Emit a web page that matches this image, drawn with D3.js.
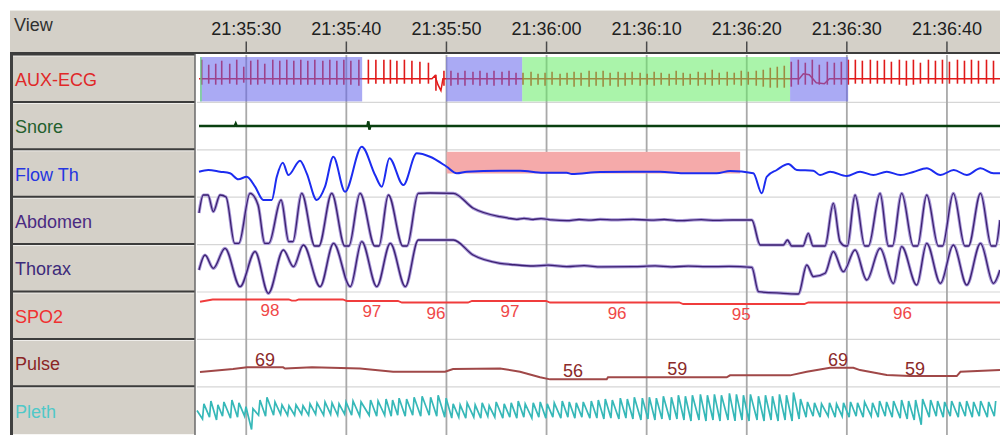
<!DOCTYPE html>
<html>
<head>
<meta charset="utf-8">
<script src="https://cdn.jsdelivr.net/npm/d3@7"></script>
<style>
body { margin: 0; background: #fff; }
svg { display: block; font-family: "Liberation Sans", Arial, sans-serif; }
</style>
</head>
<body>
<div id="chart"></div>
<script>
// times are seconds after 21:35:00
var channels = ['AUX-ECG', 'Snore', 'Flow Th', 'Abdomen', 'Thorax', 'SPO2', 'Pulse', 'Pleth'];
var viewStart = 25.13, viewEnd = 105.35;

// scored events on AUX-ECG: [start, end, type]
var ecgEvents = [[25.43, 41.63, 'B'], [25.43, 25.62, 'G'], [50.02, 57.62, 'B'], [57.62, 84.38, 'G'], [84.38, 90.18, 'B']];
// event on Flow Th: [start, end]
var flowEvents = [[50.07, 79.39]];

// heart beats: [time, ecg top, ecg bottom, pleth top, pleth bottom]
var beats = [
  [25.6, 0.95, -0.3, 0.35, -0.45], [26.3, 0.70, -0.25, 0.50, -0.35], [27.0, 0.75, -0.3, 0.30, -0.50],
  [27.6, 0.90, -0.3, 0.45, -0.30], [28.4, 0.75, -0.25, 0.55, -0.40], [29.1, 0.95, -0.3, 0.40, -0.35],
  [29.8, 0.60, -0.2, 0.20, -0.30], [30.5, 0.90, -0.3, 0.10, -1.00], [31.2, 0.95, -0.3, 0.55, -0.25],
  [31.9, 0.75, -0.25, 0.70, -0.30], [32.7, 0.95, -0.3, 0.45, -0.25], [33.4, 0.90, -0.3, 0.30, -0.20],
  [34.1, 0.95, -0.3, 0.25, -0.25], [34.8, 0.90, -0.3, 0.30, -0.25], [35.5, 0.95, -0.3, 0.25, -0.20],
  [36.2, 0.90, -0.3, 0.35, -0.25], [36.9, 0.95, -0.3, 0.40, -0.20], [37.7, 0.90, -0.3, 0.45, -0.25],
  [38.4, 0.95, -0.3, 0.40, -0.20], [39.1, 0.90, -0.3, 0.35, -0.25], [39.8, 0.95, -0.3, 0.45, -0.20],
  [40.5, 0.90, -0.3, 0.50, -0.25], [41.3, 0.95, -0.35, 0.45, -0.30], [42.25, 0.95, -0.25, 0.55, -0.25],
  [43.0, 0.95, -0.25, 0.50, -0.30], [43.8, 0.95, -0.25, 0.60, -0.25], [44.45, 0.95, -0.25, 0.55, -0.30],
  [45.1, 0.90, -0.25, 0.65, -0.25], [45.85, 0.95, -0.25, 0.60, -0.30], [46.6, 0.90, -0.25, 0.70, -0.25],
  [47.4, 0.85, -0.25, 0.75, -0.30], [48.25, 0.80, -0.25, 0.70, -0.25], [49.0, 0.20, -0.60, 0.80, -0.30],
  [49.8, 0.40, -0.35, 0.65, -0.35], [50.5, 0.40, -0.35, 0.35, -0.40], [51.2, 0.30, -0.30, 0.30, -0.35],
  [51.9, 0.40, -0.35, 0.40, -0.40], [52.7, 0.35, -0.30, 0.30, -0.35], [53.4, 0.40, -0.35, 0.40, -0.40],
  [54.1, 0.30, -0.30, 0.25, -0.30], [54.8, 0.40, -0.35, 0.45, -0.35], [55.6, 0.35, -0.30, 0.35, -0.40],
  [56.3, 0.40, -0.35, 0.40, -0.35], [57.0, 0.30, -0.30, 0.50, -0.40], [57.7, 0.30, -0.30, 0.35, -0.35],
  [58.5, 0.35, -0.35, 0.40, -0.40], [59.2, 0.25, -0.30, 0.45, -0.35], [59.9, 0.30, -0.35, 0.35, -0.40],
  [60.6, 0.35, -0.30, 0.40, -0.35], [61.4, 0.25, -0.35, 0.50, -0.40], [62.1, 0.30, -0.30, 0.45, -0.35],
  [62.8, 0.35, -0.40, 0.40, -0.40], [63.5, 0.30, -0.35, 0.45, -0.35], [64.3, 0.40, -0.40, 0.50, -0.40],
  [65.0, 0.35, -0.35, 0.55, -0.40], [65.7, 0.40, -0.40, 0.60, -0.45], [66.4, 0.30, -0.35, 0.55, -0.40],
  [67.2, 0.35, -0.40, 0.65, -0.45], [67.9, 0.30, -0.35, 0.60, -0.40], [68.6, 0.35, -0.30, 0.70, -0.45],
  [69.4, 0.30, -0.35, 0.65, -0.50], [70.1, 0.25, -0.30, 0.70, -0.45], [70.8, 0.35, -0.35, 0.65, -0.50],
  [71.5, 0.30, -0.30, 0.75, -0.45], [72.3, 0.25, -0.35, 0.70, -0.50], [73.0, 0.40, -0.30, 0.80, -0.45],
  [73.7, 0.30, -0.35, 0.75, -0.50], [74.4, 0.25, -0.30, 0.80, -0.55], [75.2, 0.35, -0.35, 0.85, -0.50],
  [75.9, 0.30, -0.30, 0.80, -0.55], [76.6, 0.45, -0.35, 0.85, -0.50], [77.3, 0.30, -0.30, 0.80, -0.55],
  [78.1, 0.35, -0.35, 0.90, -0.50], [78.8, 0.30, -0.30, 0.85, -0.55], [79.5, 0.40, -0.35, 0.80, -0.50],
  [80.2, 0.35, -0.30, 0.85, -0.55], [81.0, 0.40, -0.35, 0.75, -0.50], [81.7, 0.45, -0.40, 0.80, -0.55],
  [82.4, 0.55, -0.45, 0.75, -0.50], [83.1, 0.60, -0.45, 0.85, -0.55], [83.8, 0.65, -0.45, 0.80, -0.50],
  [84.5, 0.85, -0.40, 0.95, -0.55], [85.2, 0.95, -0.30, 0.60, -0.45], [85.9, 0.80, -0.30, 0.45, -0.35],
  [86.6, 0.95, -0.30, 0.40, -0.30], [87.3, 0.70, -0.30, 0.35, -0.35], [88.1, 0.85, -0.30, 0.40, -0.30],
  [88.8, 0.80, -0.30, 0.35, -0.35], [89.5, 0.85, -0.30, 0.40, -0.30], [90.2, 0.95, -0.30, 0.45, -0.35],
  [90.9, 0.95, -0.25, 0.40, -0.30], [91.6, 0.90, -0.25, 0.45, -0.35], [92.4, 0.95, -0.25, 0.40, -0.30],
  [93.1, 0.90, -0.25, 0.50, -0.35], [93.8, 0.95, -0.25, 0.45, -0.30], [94.5, 0.85, -0.25, 0.50, -0.35],
  [95.3, 0.95, -0.30, 0.55, -0.40], [96.0, 0.90, -0.35, 0.50, -0.45], [96.7, 0.95, -0.30, 0.55, -0.50],
  [97.4, 0.80, -0.25, 0.60, -0.75], [98.2, 0.95, -0.25, 0.55, -0.35], [98.9, 0.90, -0.25, 0.50, -0.30],
  [99.6, 0.95, -0.25, 0.45, -0.35], [100.3, 0.85, -0.25, 0.50, -0.30], [101.1, 0.95, -0.25, 0.45, -0.35],
  [101.8, 0.90, -0.25, 0.50, -0.30], [102.5, 0.95, -0.25, 0.45, -0.35], [103.2, 0.90, -0.25, 0.50, -0.30],
  [104.0, 0.95, -0.25, 0.45, -0.35], [104.7, 0.90, -0.25, 0.50, -0.30]
];

// ECG baseline wander [time, value]
var ecgBase = [[25.33, 0], [48.6, 0], [48.9, 0.15], [49.2, -0.3], [49.5, -0.6], [49.7, 0], [85.3, 0],
  [85.7, 0.25], [86.3, 0.2], [87.0, -0.2], [87.8, -0.25], [88.3, 0], [105.35, 0]];

var snore = [[25.33, 0], [28.9, 0], [29.0, 0.1], [29.1, 0], [42.15, 0], [42.25, 0.2], [42.35, -0.15], [42.45, 0], [105.35, 0]];

// respiratory channels, % of row height
var flow = [[25.33, 53.8], [26.26, 57.4], [27.43, 53.8], [28.43, 50.4], [29.26, 37.8], [30.1, 43.2], [30.93, 22.2],
  [31.76, -5.9], [32.6, -5.9], [33.1, 43.2], [33.7, 72.8], [34.26, 46.8], [35.42, 77], [36.09, 50.4], [37.09, -5.9],
  [37.92, 22.2], [38.75, 85.4], [39.92, 11.6], [41.59, 106.5], [42.92, 46.8], [43.59, 22.2], [44.35, 82.1],
  [45.74, 25.7], [47.08, 92.6], [48.41, 85.4], [50.08, 64.3], [51.08, 50.4], [52.08, 53.8], [55.4, 55.9],
  [57.4, 55.9], [59.73, 51.7], [62.07, 51.7], [62.57, 48.9], [65.4, 53.2], [68.69, 53.8], [71.39, 53.8],
  [73.69, 50.4], [77.05, 50.4], [78.38, 55.3], [80.71, 50.4], [81.55, 8.2], [82.05, 43.2], [83.05, 57.4],
  [84.21, 70], [85.05, 57.4], [86.7, 55.9], [87.37, 46.8], [88.37, 53.8], [90.04, 44.7], [91.37, 53.8],
  [92.7, 46.8], [94.04, 53.8], [95.4, 46.8], [96.69, 53.2], [98.03, 61], [99.4, 46.8], [100.73, 57.4],
  [102.03, 46.8], [103.4, 61], [104.7, 50.4], [105.35, 50.4]];

var abdomen = [[25.33, 66.7], [25.76, 104.6], [26.23, 104.6], [26.76, 69.4], [27.43, 104.6], [28.03, 100.4],
  [28.9, 2.7], [29.3, 2.7], [30.43, 108.2], [31.23, 83.5], [31.9, 2.7], [32.3, 2.7], [33.53, 94.1], [34.3, 6.1],
  [34.7, 6.1], [35.59, 108.2], [36.9, -3], [37.3, -3], [38.59, 108.2], [39.9, -3], [40.3, -3], [41.42, 108.2],
  [42.9, -3], [43.3, -3], [44.25, 104.6], [45.7, -3], [46.1, -3], [47.24, 108.2], [48.41, 108.9], [50.74, 108.2],
  [52.74, 76.6], [55.4, 58.9], [56.2, 56], [57.07, 53.4], [57.8, 55.5], [58.7, 53], [59.5, 55], [60.6, 52],
  [62.07, 50.4], [63.3, 53], [64.5, 51.5], [65.4, 53.4], [66.8, 52], [68.69, 53.4], [70.5, 51.5], [71.8, 53],
  [73.39, 50.4], [75.5, 52.5], [77, 51], [78.68, 51.9], [80.55, 51.9], [81.4, -0.8], [83.71, -0.8], [84.11, 9.7],
  [84.55, -3], [85.67, -3], [86.2, 23.8], [86.67, -3], [87.87, -3], [88.7, 87.1], [89.37, 6.1], [89.9, -3],
  [90.1, -3], [90.87, 104.6], [91.85, -3], [92.2, -3], [93.37, 108.2], [94.2, -3], [94.6, -3], [95.53, 108.2],
  [96.7, -3], [97.1, -3], [98.03, 104.6], [99.2, -3], [99.6, -3], [100.69, 108.2], [101.85, -3], [102.2, -3],
  [103.4, 108.2], [104.5, -3], [104.9, -3], [105.35, 51.9]];

var thorax = [[25.33, 46.4], [25.93, 78.1], [26.76, 50], [27.93, 92.2], [29.43, 11.2], [30.93, 85], [32.26, -2.7],
  [33.76, 88.6], [34.76, 53.4], [35.76, 99.2], [37.43, 11.2], [38.77, 102.7], [40.44, 11.2], [41.59, 106.1],
  [43.09, 11.2], [44.44, 102.7], [45.94, 11.2], [47.24, 109.7], [50.74, 109.7], [52.71, 78.1], [55.4, 60.5],
  [56.8, 57.5], [58.73, 54.9], [60.2, 56.5], [62.07, 53.4], [63.8, 55.5], [65.5, 53], [68.72, 53.4], [70.9, 55],
  [72.5, 53], [74.2, 54.5], [76.05, 53.4], [78.3, 54], [80.55, 52.1], [81.23, 0.6], [83.71, -2.7], [85.21, -4.2],
  [86.05, 57], [86.71, 32.3], [87.87, 39.5], [88.7, 85], [89.7, 42.8], [90.87, 88.6], [92.04, 25.3], [93.37, 92.2],
  [94.7, 18.4], [95.53, 95.6], [97.03, 14.8], [98.03, 102.7], [99.4, 18.4], [100.69, 99.2], [102.03, 14.8],
  [103.4, 102.7], [104.7, 18.4], [105.35, 46.4]];

// saturation (%) and heart rate (bpm)
var spo2 = [[25.43, 96.5], [26.7, 98], [34.3, 98], [34.6, 97.2], [35.0, 97.2], [35.3, 98], [39.7, 98], [40.1, 97],
  [45.2, 97], [45.6, 96], [52.2, 96], [52.6, 97], [60.0, 97], [60.4, 96], [73.3, 96], [73.7, 95], [85.8, 95],
  [86.2, 96], [105.35, 96]];
var spo2Labels = [[32.43, 98], [42.6, 97], [49.0, 96], [56.4, 97], [67.1, 96], [79.5, 95], [95.6, 96]];

var pulse = [[25.43, 64.3], [28.73, 67.8], [30.13, 69.8], [33.73, 69.8], [33.93, 68.4], [36.62, 69.8], [41.42, 68.6],
  [44.72, 64.6], [49.91, 64.6], [50.71, 67.8], [55.4, 68.6], [57.4, 64.6], [59.4, 58.1], [60.4, 55.7], [66.06, 55.7],
  [66.19, 58.1], [78.05, 58.1], [78.38, 60.4], [84.38, 60.4], [86.04, 64.6], [88.37, 69.4], [90.7, 69.4],
  [91.37, 66.6], [94.04, 60.8], [96.37, 59.6], [101.03, 59.6], [101.4, 64.6], [105.35, 66.6]];
var pulseLabels = [[31.93, 69], [62.7, 56], [73.1, 59], [89.17, 69], [96.87, 59]];

// ---- layout and styles ----
var width = 1000, height = 435;
var colLeft = 10, colRight = 195, plotLeft = 197;
var headTop = 10, headBottom = 53, rowTop0 = 55, rowH = 47.4;
var labelColors = ['#e02828', '#235f2d', '#2535e0', '#4a2a82', '#3c2a7a', '#f03030', '#8b2525', '#50c8c8'];
var eventFill = { B: '#6464eb', G: '#64eb64' };
var panelGray = '#d4d0c8';

function rowTop(i) { return rowTop0 + i * rowH; }
function rowMid(i) { return rowTop(i) + rowH / 2; }

var t0 = new Date(2000, 0, 1, 21, 35, 0);
function toDate(s) { return new Date(t0.getTime() + s * 1000); }

var x = d3.scaleTime()
  .domain([toDate(viewStart), toDate(viewEnd)])
  .range([plotLeft, width]);

var svg = d3.select('#chart').append('svg')
  .attr('width', width)
  .attr('height', height);

svg.append('defs').append('clipPath').attr('id', 'plotclip')
  .append('rect')
  .attr('x', plotLeft - 1).attr('y', rowTop0)
  .attr('width', width - plotLeft + 1).attr('height', height - rowTop0);

// header band
svg.append('rect')
  .attr('x', colLeft).attr('y', headTop)
  .attr('width', width - colLeft).attr('height', headBottom - headTop)
  .attr('fill', panelGray);
svg.append('line')
  .attr('x1', colLeft).attr('x2', width).attr('y1', headTop + 0.5).attr('y2', headTop + 0.5)
  .attr('stroke', '#ecebe6');
svg.append('text')
  .attr('x', 14).attr('y', 31)
  .attr('font-size', 18).attr('fill', '#303030')
  .text('View');

// label column
var cells = svg.selectAll('g.cell')
  .data(channels)
  .enter().append('g')
  .attr('class', 'cell');

cells.append('rect')
  .attr('x', colLeft)
  .attr('y', function(d, i) { return rowTop(i); })
  .attr('width', colRight - colLeft)
  .attr('height', rowH)
  .attr('fill', panelGray);

cells.append('line')
  .attr('x1', colLeft).attr('x2', colRight)
  .attr('y1', function(d, i) { return rowTop(i) + 1; })
  .attr('y2', function(d, i) { return rowTop(i) + 1; })
  .attr('stroke', '#ffffff').attr('stroke-width', 1).attr('opacity', 0.7);

cells.append('line')
  .attr('x1', colLeft).attr('x2', colRight)
  .attr('y1', function(d, i) { return rowTop(i) - 0.5; })
  .attr('y2', function(d, i) { return rowTop(i) - 0.5; })
  .attr('stroke', '#3c3c3c').attr('stroke-width', 2);

cells.append('text')
  .attr('x', 15)
  .attr('y', function(d, i) { return rowMid(i) + 7; })
  .attr('font-size', 18)
  .attr('fill', function(d, i) { return labelColors[i]; })
  .text(function(d) { return d; });

svg.append('line')
  .attr('x1', colLeft + 1.5).attr('x2', colLeft + 1.5)
  .attr('y1', headBottom).attr('y2', height)
  .attr('stroke', '#404040').attr('stroke-width', 3);
svg.append('line')
  .attr('x1', colRight).attr('x2', colRight)
  .attr('y1', headBottom).attr('y2', height)
  .attr('stroke', '#6a6a6a').attr('stroke-width', 1.5);
svg.append('line')
  .attr('x1', colLeft).attr('x2', width)
  .attr('y1', headBottom).attr('y2', headBottom)
  .attr('stroke', '#3c3c3c').attr('stroke-width', 2);

// time axis in the header
var timeAxis = d3.axisTop(x)
  .ticks(d3.timeSecond.every(10))
  .tickFormat(d3.timeFormat('%H:%M:%S'))
  .tickSize(11)
  .tickPadding(7);

var axisG = svg.append('g')
  .attr('transform', 'translate(0,' + (headBottom - 0.5) + ')')
  .call(timeAxis);
axisG.select('.domain').remove();
axisG.selectAll('line').attr('stroke', '#4a4a4a').attr('stroke-width', 1.5);
axisG.selectAll('text')
  .attr('font-size', 18)
  .attr('font-family', '"Liberation Sans", Arial, sans-serif')
  .attr('fill', '#202020');

// plot area
var plot = svg.append('g').attr('clip-path', 'url(#plotclip)');

plot.selectAll('line.hgrid')
  .data(d3.range(1, channels.length))
  .enter().append('line')
  .attr('class', 'hgrid')
  .attr('x1', plotLeft).attr('x2', width)
  .attr('y1', function(i) { return rowTop(i); })
  .attr('y2', function(i) { return rowTop(i); })
  .attr('stroke', '#d6d6d6').attr('stroke-width', 1.2);

var gridAxis = d3.axisBottom(x)
  .ticks(d3.timeSecond.every(10))
  .tickSize(height - rowTop0)
  .tickFormat('');
var gridG = plot.append('g')
  .attr('transform', 'translate(0,' + rowTop0 + ')')
  .call(gridAxis);
gridG.select('.domain').remove();
gridG.selectAll('line').attr('stroke', '#a9a9a9').attr('stroke-width', 1.8);

// y scales per row
function ySigned(i, span) {
  return d3.scaleLinear().domain([-1, 1]).range([rowMid(i) + span, rowMid(i) - span]);
}
function yPercent(i) {
  return d3.scaleLinear().domain([0, 100]).range([rowTop(i) + rowH, rowTop(i)]);
}
var yEcg = ySigned(0, 20);
var ySnore = ySigned(1, rowH / 2);
var yFlow = yPercent(2);
var yAbd = yPercent(3);
var yTho = yPercent(4);
var ySpo2 = d3.scaleLinear().domain([100, 90]).range([rowTop(5) + 4.5, rowTop(5) + 19.5]);
var yPulse = d3.scaleLinear().domain([100, 40]).range([rowTop(6) + 2.3, rowTop(6) + 53.3]);
var yPleth = ySigned(7, 19);

function tx(d) { return x(toDate(d[0])); }
function lineFor(yScale, curve) {
  return d3.line().x(tx).y(function(d) { return yScale(d[1]); }).curve(curve || d3.curveLinear);
}

// flow event (drawn under the trace)
plot.selectAll('rect.flowev')
  .data(flowEvents)
  .enter().append('rect')
  .attr('class', 'flowev')
  .attr('x', function(d) { return x(toDate(d[0])); })
  .attr('width', function(d) { return x(toDate(d[1])) - x(toDate(d[0])); })
  .attr('y', rowTop(2) + 2)
  .attr('height', rowH / 2 - 2)
  .attr('fill', '#f5aaaa');

// AUX-ECG
plot.append('path')
  .datum(ecgBase)
  .attr('d', lineFor(yEcg))
  .attr('fill', 'none').attr('stroke', '#e01a1a').attr('stroke-width', 1.5);
plot.selectAll('line.spike')
  .data(beats)
  .enter().append('line')
  .attr('class', 'spike')
  .attr('x1', tx).attr('x2', tx)
  .attr('y1', function(d) { return yEcg(d[2]); })
  .attr('y2', function(d) { return yEcg(d[1]); })
  .attr('stroke', '#e01a1a').attr('stroke-width', 1.6);

plot.selectAll('rect.ecgev')
  .data(ecgEvents)
  .enter().append('rect')
  .attr('class', 'ecgev')
  .attr('x', function(d) { return x(toDate(d[0])); })
  .attr('width', function(d) { return x(toDate(d[1])) - x(toDate(d[0])); })
  .attr('y', rowTop(0) + 2)
  .attr('height', rowH - 3)
  .attr('fill', function(d) { return eventFill[d[2]]; })
  .attr('opacity', 0.55);

// Snore
plot.append('path')
  .datum(snore)
  .attr('d', lineFor(ySnore))
  .attr('fill', 'none').attr('stroke', '#0a4010').attr('stroke-width', 2.5);

// Flow Th
plot.append('path')
  .datum(flow)
  .attr('d', lineFor(yFlow, d3.curveMonotoneX))
  .attr('fill', 'none').attr('stroke', '#1c2cf0').attr('stroke-width', 2);

// Abdomen, Thorax
[[abdomen, yAbd], [thorax, yTho]].forEach(function(p) {
  plot.append('path')
    .datum(p[0])
    .attr('d', lineFor(p[1], d3.curveMonotoneX))
    .attr('fill', 'none').attr('stroke', '#a898d8').attr('stroke-width', 3.2);
  plot.append('path')
    .datum(p[0])
    .attr('d', lineFor(p[1], d3.curveMonotoneX))
    .attr('fill', 'none').attr('stroke', '#3c2070').attr('stroke-width', 1.3);
});

// SPO2
plot.append('path')
  .datum(spo2)
  .attr('d', lineFor(ySpo2))
  .attr('fill', 'none').attr('stroke', '#f03c3c').attr('stroke-width', 1.8);
plot.selectAll('text.spo2')
  .data(spo2Labels)
  .enter().append('text')
  .attr('class', 'spo2')
  .attr('x', tx)
  .attr('y', function(d) { return ySpo2(d[1]) + 16; })
  .attr('text-anchor', 'middle')
  .attr('font-size', 17)
  .attr('fill', '#f04848')
  .text(function(d) { return d[1]; });

// Pulse
plot.append('path')
  .datum(pulse)
  .attr('d', lineFor(yPulse))
  .attr('fill', 'none').attr('stroke', '#a04848').attr('stroke-width', 2);
plot.selectAll('text.pulse')
  .data(pulseLabels)
  .enter().append('text')
  .attr('class', 'pulse')
  .attr('x', tx)
  .attr('y', function(d) { return yPulse(d[1]) - 2; })
  .attr('text-anchor', 'middle')
  .attr('font-size', 18)
  .attr('fill', '#8b2a2a')
  .text(function(d) { return d[1]; });

// Pleth: trough then upstroke to peak for every beat
var plethPts = [[viewStart, 0]];
beats.forEach(function(b) {
  plethPts.push([b[0] + 0.08, b[4]]);
  plethPts.push([b[0] + 0.22, b[3]]);
});
plot.append('path')
  .datum(plethPts)
  .attr('d', lineFor(yPleth))
  .attr('fill', 'none').attr('stroke', '#36b8b8').attr('stroke-width', 1.7);
</script>
</body>
</html>
